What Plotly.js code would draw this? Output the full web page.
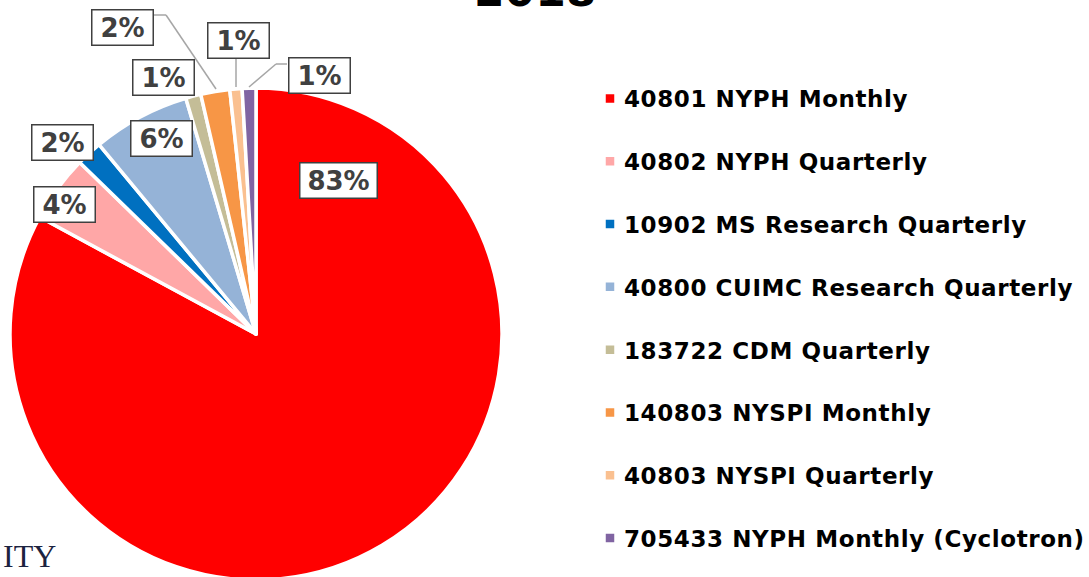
<!DOCTYPE html>
<html>
<head>
<meta charset="utf-8">
<script src="https://cdn.plot.ly/plotly-3.0.1.min.js"></script>
<style>
html, body { margin:0; padding:0; width:1089px; height:577px; overflow:hidden; background:#fff; }
#wrap { width:1089px; height:577px; overflow:hidden; }
#chart .legendtext { letter-spacing: 0.6px; }
#chart path.legendpie { transform: translate(26px, 0px); }
#chart .legend .scrollbox { clip-path: none !important; }
</style>
</head>
<body>
<div id="wrap"><div id="chart"></div></div>
<script>
// ---- data ----
const accounts = [
  "40801 NYPH Monthly",
  "40802 NYPH Quarterly",
  "10902 MS Research Quarterly",
  "40800 CUIMC Research Quarterly",
  "183722 CDM Quarterly",
  "140803 NYSPI Monthly",
  "40803 NYSPI Quarterly",
  "705433 NYPH Monthly (Cyclotron)"
];
const shares = [82.8, 4.4, 1.7, 6.4, 1.0, 1.9, 0.8, 0.9];
const sliceColors = ["#FF0000", "#FFA7A7", "#0070C0", "#95B3D7", "#C4BD97", "#F79646", "#FAC090", "#8064A2"];
const chartTitle = "2018";

// ---- layout helpers (pixel positions of the label boxes) ----
const W = 1089, H = 590;
const px = x => x / W;
const py = y => 1 - y / H;
const labelPos = [[338,180],[64,204],[62,142],[161,138],[163,77],[122,27],[238,40],[319,76]];
const leaderLines = [
  [[154,15],[166,15],[216,89]],
  [[236,59],[236,87]],
  [[287,64],[276,64],[249,87]]
];

const total = shares.reduce((a,b)=>a+b,0);
const pctText = shares.map(v => Math.round(v/total*100) + "%");

const trace = {
  type: "pie",
  labels: accounts.map(a => a + "<br> "),
  values: shares,
  sort: false,
  direction: "clockwise",
  rotation: 0,
  textinfo: "none",
  hoverinfo: "none",
  marker: { colors: sliceColors, line: { color: "#ffffff", width: 3.5 } },
  domain: { x: [px(10), px(502)], y: [py(580), py(88)] }
};

const annotations = pctText.map((t, i) => ({
  xref: "paper", yref: "paper",
  x: px(labelPos[i][0]), y: py(labelPos[i][1]),
  xanchor: "center", yanchor: "middle",
  text: t, showarrow: false,
  font: { family: "DejaVu Sans", size: 26, color: "#404040", weight: "bold" },
  bgcolor: "#ffffff", bordercolor: "#404040", borderwidth: 1.5, borderpad: 2,
  width: t.length > 2 ? 72 : 56
}));
annotations.push({
  xref: "paper", yref: "paper", x: px(1), y: py(556),
  xanchor: "left", yanchor: "middle", showarrow: false,
  text: "ITY", font: { family: "Liberation Serif", size: 32, color: "#1c2340" }
});
// chart title (sits partly above the visible area, as in the reference)
annotations.push({
  xref: "paper", yref: "paper", x: px(535), y: py(-10),
  xanchor: "center", yanchor: "middle", showarrow: false,
  text: chartTitle, font: { family: "DejaVu Sans", size: 44, color: "#000000", weight: "bold" }
});

const shapes = [];
leaderLines.forEach(pts => {
  for (let k = 0; k < pts.length - 1; k++) {
    shapes.push({
      type: "line", xref: "paper", yref: "paper",
      x0: px(pts[k][0]), y0: py(pts[k][1]), x1: px(pts[k+1][0]), y1: py(pts[k+1][1]),
      line: { color: "#A6A6A6", width: 1.5 }
    });
  }
});

const layout = {
  width: W, height: H,
  margin: { l: 0, r: 0, t: 0, b: 0 },
  paper_bgcolor: "#ffffff",
  showlegend: true,
  legend: {
    x: px(584), xanchor: "left", xref: "paper",
    y: py(77), yanchor: "top", yref: "paper",
    valign: "top",
    font: { family: "DejaVu Sans", size: 23, color: "#000000", weight: "bold" },
    bgcolor: "rgba(0,0,0,0)", borderwidth: 0
  },
  annotations: annotations,
  shapes: shapes
};

Plotly.newPlot("chart", [trace], layout, { staticPlot: true, displayModeBar: false });
</script>
</body>
</html>
